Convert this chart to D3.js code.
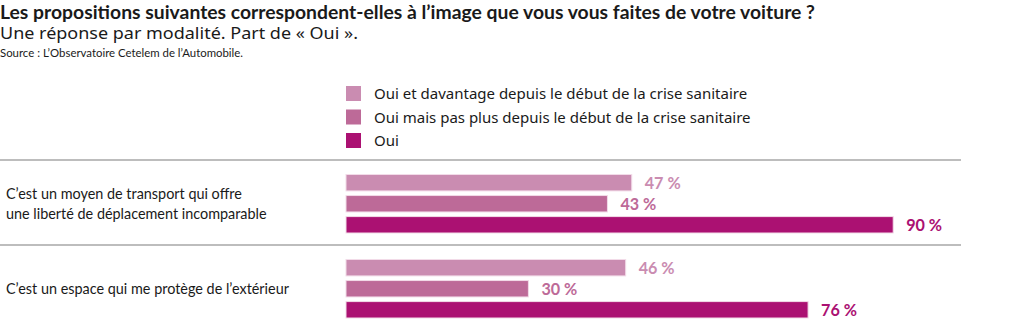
<!DOCTYPE html>
<html>
<head>
<meta charset="utf-8">
<script src="https://cdn.jsdelivr.net/npm/d3@7"></script>
<style>
  body { margin: 0; background: #fff; }
  text { fill: #1a1a1a; font-family: Lato, 'Noto Sans', sans-serif; }
</style>
</head>
<body>
<div id="chart"></div>
<script>
let categories = [
  ['C\u2019est un moyen de transport qui offre', 'une libert\u00e9 de d\u00e9placement incomparable'],
  ['C\u2019est un espace qui me prot\u00e8ge de l\u2019ext\u00e9rieur']
]
let seriesNames = [
  'Oui et davantage depuis le d\u00e9but de la crise sanitaire',
  'Oui mais pas plus depuis le d\u00e9but de la crise sanitaire',
  'Oui'
]
let davantage = [47, 46]
let pasPlus = [43, 30]
let oui = [90, 76]

let colors = ['#ca8cb1', '#bd6a98', '#ab1172']

let width = 1020
let height = 330

// squeeze text horizontally, the house font is a condensed one
function condense(selection, factor) {
  selection.each(function() {
    let w = this.getComputedTextLength()
    d3.select(this)
      .attr('textLength', w * factor)
      .attr('lengthAdjust', 'spacingAndGlyphs')
  })
}

function fitTo(selection, w) {
  selection.attr('textLength', w).attr('lengthAdjust', 'spacingAndGlyphs')
}

let svg = d3
  .select('#chart')
  .append('svg')
  .attr('width', width)
  .attr('height', height)

// titles
svg
  .append('text')
  .attr('x', 0)
  .attr('y', 19)
  .attr('font-weight', 'bold')
  .attr('font-size', 19)
  .text('Les propositions suivantes correspondent-elles \u00e0 l\u2019image que vous vous faites de votre voiture ?')
  .call(fitTo, 815)

svg
  .append('text')
  .attr('x', 0)
  .attr('y', 39)
  .style('font-family', 'Noto Sans')
  .attr('font-size', 16)
  .text('Une r\u00e9ponse par modalit\u00e9. Part de \u00ab Oui \u00bb.')
  .call(fitTo, 358)

svg
  .append('text')
  .attr('x', 0)
  .attr('y', 57)
  .attr('font-size', 11.5)
  .text('Source : L\u2019Observatoire Cetelem de l\u2019Automobile.')
  .call(fitTo, 243)

// legend
let legend = svg
  .selectAll('.legend')
  .data(seriesNames)
  .enter()
  .append('g')
  .attr('class', 'legend')
  .attr('transform', (d, i) => 'translate(346,' + (86 + i * 23.5) + ')')

legend
  .append('rect')
  .attr('width', 15)
  .attr('height', 15)
  .attr('fill', (d, i) => colors[i])

legend
  .append('text')
  .attr('x', 28)
  .attr('y', 8)
  .attr('dy', '0.35em')
  .style('font-family', 'Noto Sans')
  .attr('font-size', 15)
  .text(d => d)

// scales
let xPositionScale = d3.scaleLinear().domain([0, 100]).range([346, 954])

let groupScale = d3
  .scaleBand()
  .domain(d3.range(categories.length))
  .range([160, 330])

let barScale = d3
  .scaleBand()
  .domain(d3.range(seriesNames.length))
  .range([14.5, 73])
  .paddingInner(0.22)

let rows = categories.map((c, i) => ({
  label: c,
  values: [davantage[i], pasPlus[i], oui[i]]
}))

// separators
svg
  .selectAll('.sep')
  .data(rows)
  .enter()
  .append('line')
  .attr('class', 'sep')
  .attr('x1', 0)
  .attr('x2', 961)
  .attr('y1', (d, i) => groupScale(i))
  .attr('y2', (d, i) => groupScale(i))
  .attr('stroke', '#bdbdbd')
  .attr('stroke-width', 2)

let groups = svg
  .selectAll('.group')
  .data(rows)
  .enter()
  .append('g')
  .attr('class', 'group')
  .attr('transform', (d, i) => 'translate(0,' + groupScale(i) + ')')

groups
  .selectAll('.bar')
  .data(d => d.values)
  .enter()
  .append('rect')
  .attr('class', 'bar')
  .attr('x', xPositionScale(0))
  .attr('y', (d, i) => barScale(i))
  .attr('width', d => xPositionScale(d) - xPositionScale(0))
  .attr('height', barScale.bandwidth())
  .attr('fill', (d, i) => colors[i])
  .attr('stroke', '#f2dbe8')
  .attr('stroke-width', 1)

groups
  .selectAll('.value')
  .data(d => d.values)
  .enter()
  .append('text')
  .attr('class', 'value')
  .attr('x', d => xPositionScale(d) + 13)
  .attr('y', (d, i) => barScale(i) + barScale.bandwidth() / 2)
  .attr('dy', '0.35em')
  .attr('font-weight', 'bold')
  .attr('font-size', 17)
  .style('fill', (d, i) => colors[i])
  .text(d => d + ' %')
  .call(condense, 0.95)

groups
  .append('text')
  .attr('class', 'cat')
  .attr('font-size', 16)
  .selectAll('tspan')
  .data(d => d.label)
  .enter()
  .append('tspan')
  .attr('x', 6)
  .attr('y', function(d, i) {
    let n = d3.select(this.parentNode).datum().label.length
    return 43 + (i - (n - 1) / 2) * 20
  })
  .attr('dy', '0.35em')
  .text(d => d)

// squeeze each label line on its own
groups.selectAll('.cat tspan').call(condense, 0.9)
</script>
</body>
</html>
